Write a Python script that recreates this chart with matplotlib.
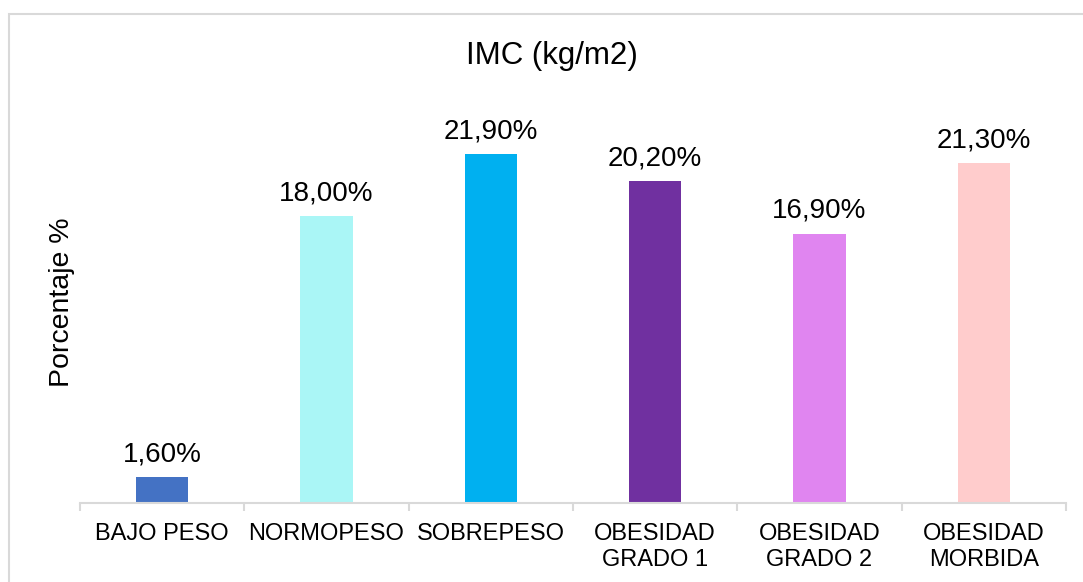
import matplotlib
matplotlib.use("Agg")
import matplotlib.pyplot as plt
from matplotlib.patches import Rectangle

plt.rcParams['font.family'] = ['Liberation Sans', 'DejaVu Sans']

categories = ["BAJO PESO", "NORMOPESO", "SOBREPESO", "OBESIDAD\nGRADO 1",
              "OBESIDAD\nGRADO 2", "OBESIDAD\nMORBIDA"]
values = [1.6, 18.0, 21.9, 20.2, 16.9, 21.3]
value_labels = ["1,60%", "18,00%", "21,90%", "20,20%", "16,90%", "21,30%"]
colors = ["#4472C4", "#AAF6F6", "#00B0F0", "#7030A0", "#E085F0", "#FFCCCC"]

W, H = 1083, 582
fig = plt.figure(figsize=(W / 100, H / 100), dpi=100)
ax = fig.add_axes([80 / W, 1 - 503 / H, (1066 - 80) / W, 398.5 / H])

x = list(range(len(categories)))
bars = ax.bar(x, values, width=0.32, color=colors, zorder=2)
for b, lab in zip(bars, value_labels):
    ax.annotate(lab, (b.get_x() + b.get_width() / 2, b.get_height()),
                xytext=(0, 7), textcoords="offset points",
                ha="center", va="bottom", fontsize=20, color="#000000")

ax.set_xlim(-0.5, len(categories) - 0.5)
ax.set_ylim(0, 25)
ax.set_yticks([])
for s in ["top", "right", "left"]:
    ax.spines[s].set_visible(False)
ax.spines["bottom"].set_color("#D9D9D9")
ax.spines["bottom"].set_linewidth(1.5)

# category labels centred under each bar, separators between categories
ax.set_xticks(x)
ax.set_xticklabels(categories, fontsize=17, linespacing=1.2)
ax.tick_params(axis="x", length=0, pad=14.5)
ax.set_xticks([i - 0.5 for i in range(len(categories) + 1)], minor=True)
ax.tick_params(axis="x", which="minor", length=6, color="#D9D9D9", width=1.5)

fig.text(62 / W, 1 - 302 / H, "Porcentaje %", rotation=90,
         ha="center", va="center", fontsize=20.5)
fig.text(552 / W, 1 - 64 / H, "IMC (kg/m2)", ha="center", va="baseline", fontsize=22.5)

# chart frame
fig.add_artist(Rectangle((9 / W, -0.1), 1.2, 1 - 14 / H + 0.1, transform=fig.transFigure,
                         fill=False, edgecolor="#D9D9D9", linewidth=1.5, clip_on=False))

fig.savefig("out.png", dpi=100, facecolor="white")
